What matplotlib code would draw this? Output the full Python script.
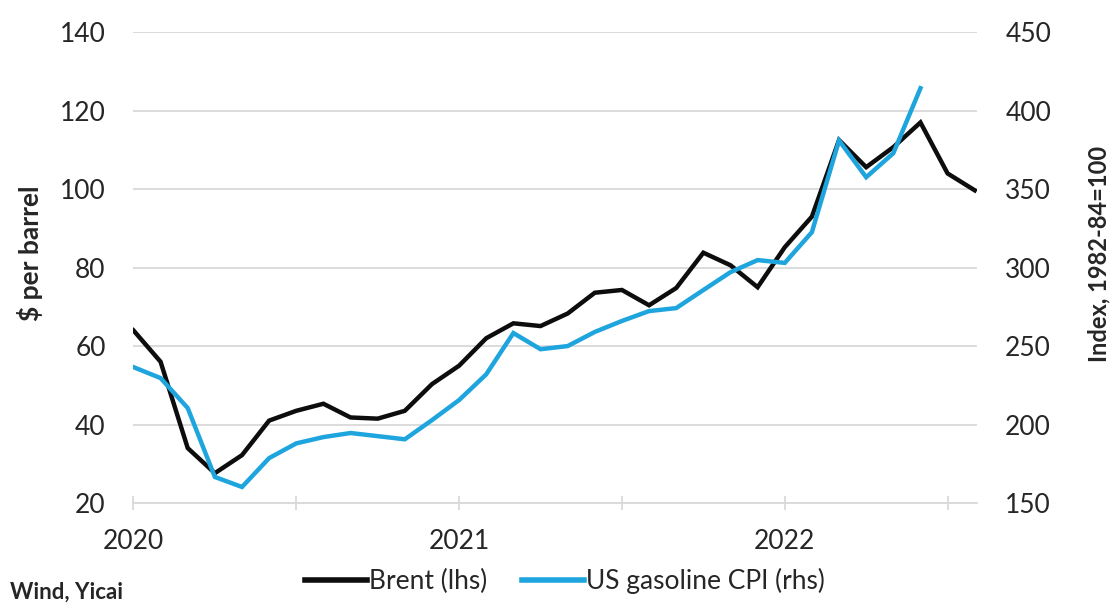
import matplotlib
matplotlib.use("Agg")
import matplotlib.pyplot as plt
from matplotlib.lines import Line2D

plt.rcParams["font.family"] = ["Lato", "DejaVu Sans"]

# Monthly, Jan 2020 .. Aug 2022 (Brent) / Jun 2022 (CPI)
brent = [64.0, 56.0, 34.0, 27.6, 32.2, 41.0, 43.5, 45.3, 41.8, 41.5, 43.5, 50.3,
         55.0, 62.0, 65.8, 65.1, 68.3, 73.6, 74.3, 70.4, 74.8, 83.8, 80.6, 75.0,
         85.2, 93.0, 112.5, 105.6, 110.7, 117.0, 104.0, 99.7]
gas_cpi = [236.6, 229.6, 210.5, 166.6, 160.2, 178.6, 188.0, 192.0, 194.6, 192.6, 190.6, 202.8,
           215.6, 232.0, 258.3, 248.0, 250.0, 259.0, 266.0, 272.3, 274.2, 285.7, 297.1, 304.8,
           303.0, 322.6, 381.0, 357.6, 372.9, 414.3]
year_labels = ["2020", "2021", "2022"]

BLACK = "#0d0d0d"
BLUE = "#1fa5de"
GRID = "#d9d9d9"
TXT = "#262626"
FS = 19

fig = plt.figure(figsize=(11.12, 6.08), dpi=100)
ax = fig.add_axes([0.12, 0.1727, 0.759, 0.7743])
ax2 = ax.twinx()

ax.plot(range(len(brent)), brent, color=BLACK, lw=3.2, solid_joinstyle="miter", zorder=3)
ax2.plot(range(len(gas_cpi)), gas_cpi, color=BLUE, lw=3.2, solid_joinstyle="miter", zorder=3)

ax.set_xlim(0, 31.1)
ax.set_ylim(20, 140)
ax2.set_ylim(150, 450)
ax.set_yticks(range(20, 141, 20))
ax2.set_yticks(range(150, 451, 50))
ax.set_xticks(range(0, 31, 6))
ax.set_xticklabels([year_labels[i // 2] if i % 2 == 0 else "" for i in range(6)])

ax.grid(axis="y", color=GRID, lw=1.3)
ax.set_axisbelow(True)
for a in (ax, ax2):
    for s in ("left", "right", "top"):
        a.spines[s].set_visible(False)
ax.spines["bottom"].set_color(GRID)
ax.spines["bottom"].set_linewidth(1.3)
ax2.spines["bottom"].set_visible(False)

ax.tick_params(axis="x", direction="inout", length=10, width=1.3, color=GRID,
               labelsize=FS, labelcolor=TXT, pad=14)
ax.tick_params(axis="y", length=0, labelsize=FS, labelcolor=TXT, pad=20)
ax2.tick_params(axis="y", length=0, labelsize=FS, labelcolor=TXT, pad=20)

ax.set_ylabel("\\$ per barrel", fontsize=19, fontweight="bold", color=TXT, labelpad=12)
ax2.set_ylabel("Index, 1982-84=100", fontsize=17, fontweight="bold", color=TXT, labelpad=26)
ax.yaxis.label.set_y(0.53)
ax2.yaxis.label.set_y(0.53)

fig.text(0.009, 0.008, "Wind, Yicai", fontsize=16, fontweight="bold", color=TXT,
         ha="left", va="bottom")

handles = [Line2D([0], [0], color=BLACK, lw=4),
           Line2D([0], [0], color=BLUE, lw=4)]
fig.legend(handles, ["Brent (lhs)", "US gasoline CPI (rhs)"], loc="center",
           bbox_to_anchor=(0.508, 0.044), ncol=2, frameon=False, fontsize=FS,
           handlelength=2.35, handletextpad=0.08, columnspacing=1.3, labelcolor=TXT)

fig.savefig("out.png", dpi=100)
